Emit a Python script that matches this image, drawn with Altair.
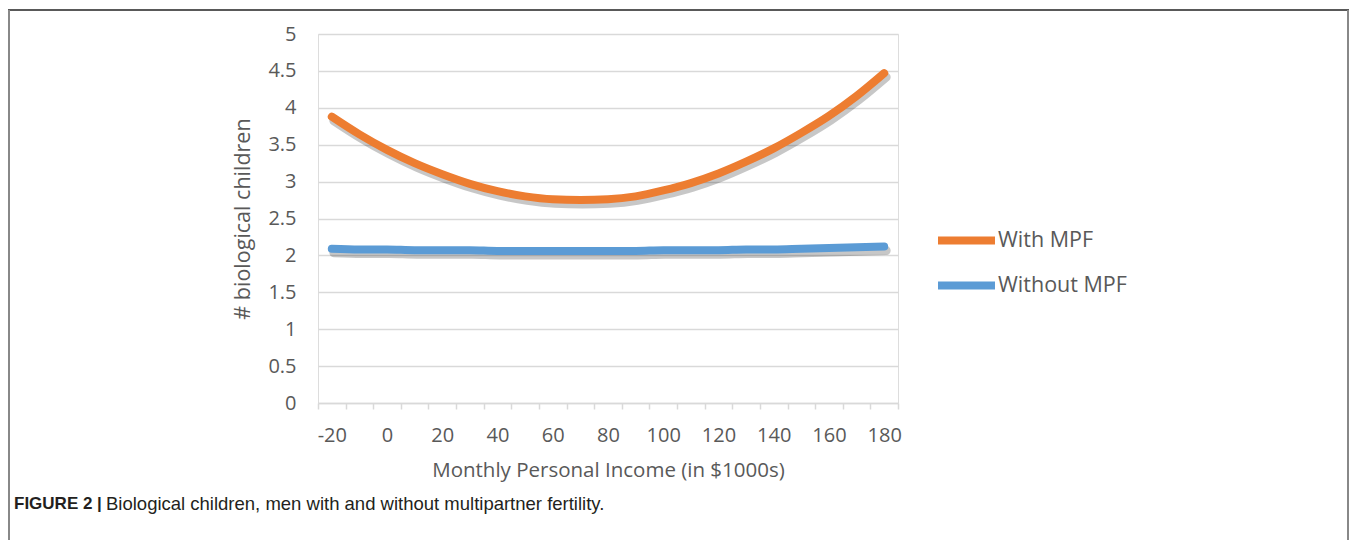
import altair as alt
import pandas as pd

income = [-20, -10, 0, 10, 20, 30, 40, 50, 60, 70, 80, 90, 100, 110, 120, 130, 140, 150, 160, 170, 180]
with_mpf = [3.88, 3.64, 3.43, 3.25, 3.10, 2.97, 2.87, 2.80, 2.76, 2.75, 2.76, 2.80, 2.88, 2.98, 3.11, 3.27, 3.45, 3.66, 3.89, 4.16, 4.47]
without_mpf = [2.09, 2.08, 2.08, 2.07, 2.07, 2.07, 2.06, 2.06, 2.06, 2.06, 2.06, 2.06, 2.07, 2.07, 2.07, 2.08, 2.08, 2.09, 2.10, 2.11, 2.12]
series_names = ["With MPF", "Without MPF"]
series_colors = ["#ED7D31", "#5B9BD5"]
x_tick_values = list(range(-25, 190, 5))
y_tick_values = [0, 0.5, 1, 1.5, 2, 2.5, 3, 3.5, 4, 4.5, 5]
x_title = "Monthly Personal Income (in $1000s)"
y_title = "# biological children"
caption_bold = "FIGURE 2 |"
caption_text = "Biological children, men with and without multipartner fertility."

rows = []
for name, vals in zip(series_names, [with_mpf, without_mpf]):
    for x, v in zip(income, vals):
        rows.append({"income": x, "value": v, "series": name})
df = pd.DataFrame(rows)

FONT = "Open Sans"
GRAY = "#595959"
LINE = "#d9d9d9"

x_axis = alt.Axis(
    values=x_tick_values,
    labelExpr="datum.value % 20 == 0 ? toString(datum.value) : ''",
    tickOpacity={"condition": {"test": "datum.value % 10 != 0", "value": 1}, "value": 0},
    tickSize=6, tickColor=LINE, tickWidth=1.5,
    domainColor=LINE, domainWidth=1.5,
    grid=False,
    labelFont=FONT, labelFontSize=20, labelColor=GRAY, labelPadding=16,
    labelFlush=False, labelOverlap=False,
    title=x_title, titleFont=FONT, titleFontSize=20.5, titleColor=GRAY,
    titleFontWeight="normal", titlePadding=15,
)
y_axis = alt.Axis(
    values=y_tick_values,
    labelExpr="toString(datum.value)",
    domain=False, ticks=False,
    grid=True, gridColor=LINE, gridWidth=1.5,
    labelFont=FONT, labelFontSize=20, labelColor=GRAY, labelPadding=22,
    title=y_title, titleFont=FONT, titleFontSize=21.5, titleColor=GRAY,
    titleFontWeight="normal", titlePadding=13,
)

base = alt.Chart(df).encode(
    x=alt.X("income:Q", scale=alt.Scale(domain=[-25, 185], nice=False, zero=False), axis=x_axis),
    y=alt.Y("value:Q", scale=alt.Scale(domain=[0, 5], nice=False), axis=y_axis),
)

shadow = base.mark_line(
    interpolate="monotone", strokeWidth=9, strokeCap="round", color="#000000",
    opacity=0.22, yOffset=4, xOffset=2,
).encode(detail="series:N")

lines = base.mark_line(interpolate="monotone", strokeWidth=8, strokeCap="round").encode(
    color=alt.Color(
        "series:N",
        scale=alt.Scale(domain=series_names, range=series_colors),
        legend=alt.Legend(
            orient="none", legendX=630, legendY=188, title=None,
            symbolType="M-2,0H2", symbolSize=812, symbolStrokeWidth=8,
            labelFont=FONT, labelFontSize=21.5, labelColor=GRAY,
            labelOffset=13,
            rowPadding=10,
        ),
    )
)

one = pd.DataFrame({"k": [0]})
top_border = alt.Chart(one).mark_rule(color="#222222", strokeWidth=1.5).encode(
    x=alt.value(-310), x2=alt.value(1031), y=alt.value(-24)
)
left_border = alt.Chart(one).mark_rule(color="#888888", strokeWidth=2).encode(
    x=alt.value(-309), y=alt.value(-24), y2=alt.value(600)
)
right_border = alt.Chart(one).mark_rule(color="#888888", strokeWidth=2).encode(
    x=alt.value(1030), y=alt.value(-24), y2=alt.value(600)
)
cap1 = alt.Chart(one).mark_text(
    text=caption_bold, font="Liberation Sans", fontSize=17, fontWeight="bold",
    align="left", baseline="middle", color="#231f20",
).encode(x=alt.value(-304), y=alt.value(470))
cap2 = alt.Chart(one).mark_text(
    text=caption_text, font="Liberation Sans", fontSize=18.5,
    align="left", baseline="middle", color="#231f20",
).encode(x=alt.value(-212), y=alt.value(470))

chart = alt.layer(shadow, lines, top_border, left_border, right_border, cap1, cap2).properties(
    width=580, height=369,
    autosize=alt.AutoSizeParams(type="none"),
    padding={"left": 310, "top": 26, "right": 452, "bottom": 137},
).configure_view(stroke=None).configure(background="white")

chart.save("out.html", embed_options={"renderer": "svg", "actions": False})
